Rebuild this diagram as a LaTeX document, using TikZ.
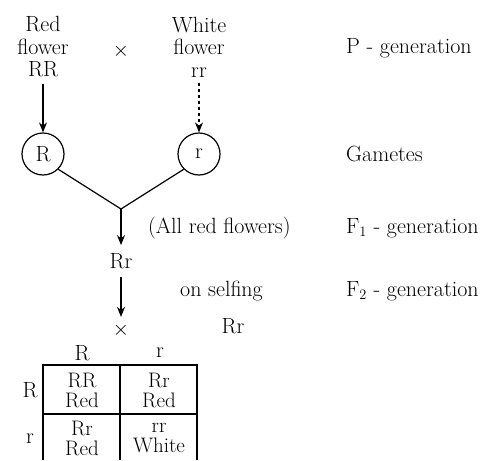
\documentclass[tikz,border=0pt]{standalone}
\usetikzlibrary{arrows, arrows.meta, positioning}
\tikzset{
    %Define standard arrow tip
    >={Stealth[length=10pt,width=8pt]},
}

\begin{document}
\begin{tikzpicture}[
  x=1pt, y=-1pt,
  every node/.style = {align=center, inner sep=0pt,
                       font=\fontsize{22}{22.5}\selectfont},
  gam/.style = {draw, circle, minimum size=42pt, line width=1.2pt},
  cell/.style = {font=\fontsize{21}{20}\selectfont},
  lbl/.style = {anchor=west},
  ln/.style = {line width=1.2pt} ]
  \useasboundingbox (0,0) rectangle (502,460);
  % parents
  \node (red)   at (43,47)  {Red\\flower\\RR};
  \node (cross) at (121,51) {$\times$};
  \node (white) at (199,47) {White\\flower\\rr};
  \node[lbl] (pgen) at (346,48) {P - generation};
  % gametes
  \node[gam] (gR) at (43,154) {R};
  \node[gam] (gr) at (199,154) {r};
  \node[lbl] (gamtxt) at (346,154) {Gametes};
  \draw[ln,->] (red.south) ++(0,6) -- (gR.north);
  \draw[ln,->,dashed] (white.south) ++(0,6) -- (gr.north);
  \coordinate (join) at (121,209);
  \draw[ln] (gR.south east) -- (join) -- (gr.south west);
  % F1
  \node (f1) at (121,261) {Rr};
  \draw[ln,->] (join) -- ([yshift=8pt]f1.north);
  \node[lbl] (allred) at (148,228) {(All red flowers)};
  \node[lbl] (f1gen) at (346,228) {F$_1$ - generation};
  % F2
  \node (self) at (121,330) {$\times$};
  \draw[ln,->] (f1.south) ++(0,8) -- ([yshift=6pt]self.north);
  \node[lbl] (onself) at (180,291) {on selfing};
  \node[lbl] (f2gen) at (346,291) {F$_2$ - generation};
  \node (rr2) at (233,326) {Rr};
  % checkerboard
  \node (cR) at (82,353)  {R};
  \node (cr) at (160,353) {r};
  \node (rR) at (30,390)  {R};
  \node (rr) at (30,439)  {r};
  \node[cell] (c11) at (82,390)  {RR\\Red};
  \node[cell] (c12) at (159,390) {Rr\\Red};
  \node[cell] (c21) at (82,438)  {Rr\\Red};
  \node[cell] (c22) at (159,438) {rr\\White};
  \draw[ln] (43,460) -- (43,365) -- (197,365) -- (197,460);
  \draw[ln] (43,414) -- (197,414);
  \draw[ln] (120,365) -- (120,460);
\end{tikzpicture}
\end{document}
